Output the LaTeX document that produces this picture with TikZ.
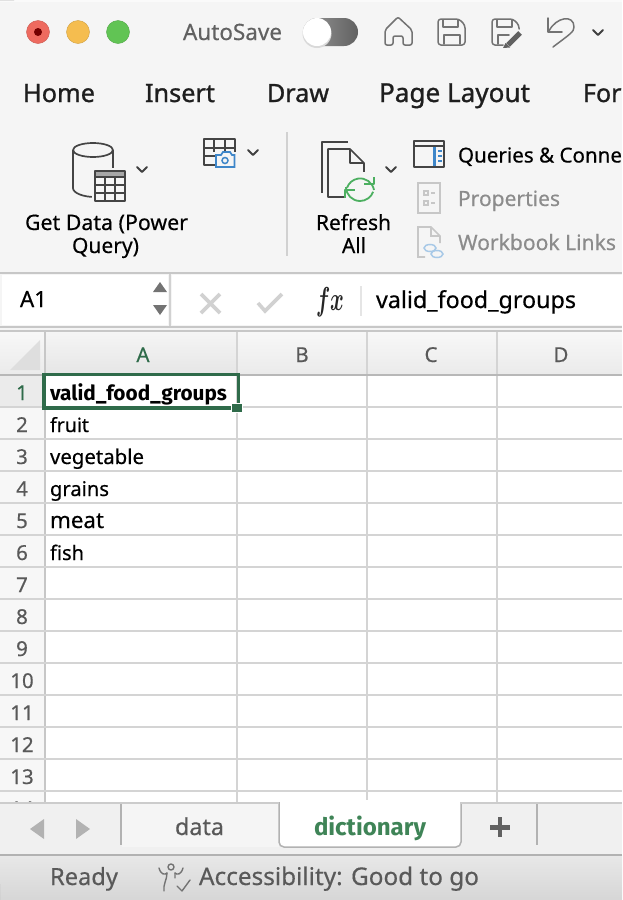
\documentclass[tikz,border=0pt]{standalone}
\usepackage{graphicx}
\usepackage{fontspec}
\setmainfont{Noto Sans}
\newfontfamily\boldface{Fira Sans}
\newfontfamily\midface{Noto Sans}[FakeBold=1.0]
\newfontfamily\lightbold{Noto Sans}[FakeBold=0.4]
\definecolor{ink}{HTML}{1E1E1E}
\definecolor{ico}{HTML}{444444}
\definecolor{grayt}{HTML}{8C8C8C}
\definecolor{grid}{HTML}{D4D4D4}
\definecolor{xlgreen}{HTML}{2F6B4A}
\definecolor{tabgreen}{HTML}{3F8457}
\definecolor{iblue}{HTML}{3E86C9}
\definecolor{tlred}{HTML}{EE6A5F}
\definecolor{tlyellow}{HTML}{F5BD4F}
\definecolor{tlgreen}{HTML}{61C454}
\definecolor{refgreen}{HTML}{4CAF60}
\tikzset{
  lbl/.style={anchor=base west,inner sep=0pt,outer sep=0pt},
  ctr/.style={anchor=base,inner sep=0pt,outer sep=0pt,font=\lightbold\fontsize{20.5}{24}\selectfont},
  gridline/.style={draw=grid,line width=2pt},
  icon/.style={draw=ico,line width=1.7pt,line join=round},
  softicon/.style={draw=black!55,line width=1.5pt,line join=round,line cap=round},
  chev/.style={draw=ink!85,line width=2pt,line join=round,line cap=round},
  refr/.style={draw=refgreen,line width=1.8pt,line join=round}
}
% name, x, baseline y, width, colour, text
\newcommand{\fittext}[6]{\node[lbl,text=#5] (#1) at (#2,#3) {\resizebox{#4pt}{!}{\fontsize{20}{24}\selectfont\strut #6}};}
\newcommand{\chevron}[2]{\draw[chev] (#1-5,#2-3) -- (#1,#2+2) -- (#1+5,#2-3);}
\begin{document}
\begin{tikzpicture}[x=1pt,y=-1pt]
\useasboundingbox (0,0) rectangle (622,900);
% window background
\fill[white] (0,0) rectangle (622,900);
\fill[black!4] (0,0) rectangle (622,272);
\fill[black!2] (0,0) rectangle (622,2);
\fill[black!78] (0,0) -- (14,0) arc[start angle=90,end angle=180,radius=14] -- cycle;
% traffic lights
\fill[tlred,draw=tlred!85!black] (38,32) circle (11.5);
\fill[red!45!black] (38,32) circle (4);
\fill[tlyellow,draw=tlyellow!85!black] (78,32) circle (11.5);
\fill[tlgreen,draw=tlgreen!85!black] (118,32) circle (11.5);
\fittext{autosave}{183}{40}{99}{black!62}{\lightbold AutoSave}
% toggle
\shade[left color=black!40,right color=black!62,rounded corners=14pt] (303,18) rectangle (358,46);
\fill[black!15] (317,33.5) circle (14.5);
\fill[white] (317,32) circle (14);
% home icon
\draw[softicon,rounded corners=2pt] (393,45) -- (393,36) -- (403,36) -- (403,45) -- (412,45) -- (412,30) -- (398,17) -- (385,30) -- (385,45) -- cycle;
% save icon
\draw[softicon,rounded corners=3pt] (438,19) -- (459,19) -- (465,25) -- (465,45) -- (438,45) -- cycle;
\draw[softicon] (443,20) -- (443,27) -- (458,27) -- (458,20);
\draw[softicon] (444,44) -- (444,35) -- (460,35) -- (460,44);
% save-as icon
\draw[softicon,rounded corners=3pt] (503,45) -- (492,45) -- (492,19) -- (513,19) -- (519,25) -- (519,29);
\draw[softicon] (497,20) -- (497,27) -- (512,27) -- (512,20);
\draw[softicon] (498,44) -- (498,35) -- (509,35);
\draw[draw=black!62,line width=5pt] (520,33) -- (508,45);
\fill[black!62] (505.5,43) -- (510,47.5) -- (503,48) -- cycle;
% undo icon
\draw[softicon] (548,18) -- (548,32) -- (562,32);
\draw[softicon] (549,31) .. controls (556,17) and (574,14) .. (574,27) .. controls (574,32) and (570,34) .. (553,47);
\chevron{598}{33}
% ribbon tabs
\fittext{thome}{23}{102}{72}{ink}{\midface Home}
\fittext{tinsert}{145}{102}{70}{ink}{\midface Insert}
\fittext{tdraw}{267}{102}{62}{ink}{\midface Draw}
\fittext{tpage}{379}{102}{151}{ink}{\midface Page Layout}
\fittext{tfor}{583}{102}{38.5}{ink}{\midface For}
% get data icon
\draw[icon] (113,170) -- (113,150) (73,150) -- (73,188) .. controls (73,193) and (83,197) .. (95,197);
\draw[icon] (93,150) ellipse (20 and 7);
\fill[black!4] (92,168) rectangle (127,203);
\fill[black!35] (95,171) rectangle (125,177);
\draw[icon] (95,171) rectangle (125,201);
\draw[icon,line width=1.2pt] (105,177) -- (105,201) (115,177) -- (115,201) (95,185) -- (125,185) (95,193) -- (125,193);
\draw[icon] (95,177) -- (125,177);
\chevron{142}{170}
\fittext{getdata}{25}{230}{163}{black}{\lightbold Get Data (Power}
\fittext{query}{72}{253}{67}{black}{\lightbold Query)}
% screenshot table icon
\draw[icon] (235,152) -- (235,139) -- (204,139) -- (204,165) -- (215,165);
\draw[icon,line width=1.2pt] (214,139) -- (214,152) (225,139) -- (225,152) (204,148) -- (235,148) (204,156) -- (215,156);
\draw[draw=iblue,line width=1.7pt,fill=black!4] (216,155) -- (221,155) -- (223,152) -- (230,152) -- (232,155) -- (234.5,155) -- (234.5,167) -- (216,167) -- cycle;
\draw[draw=iblue,line width=1.5pt] (225,160.5) circle (3);
\chevron{253}{153}
\fill[black!18] (286,132) rectangle (288,256);
% refresh icon
\draw[icon] (348,142) -- (322,142) -- (322,193);
\draw[icon] (345,197) -- (328,197) -- (328,149) -- (350,149) -- (364,163) -- (364,172);
\draw[icon,line width=1.4pt] (350,149) -- (350,163) -- (364,163);
\fill[black!4] (345,172) rectangle (376,202);
\draw[refr] (346,187) arc[start angle=180,end angle=20,radius=14];
\draw[refr] (374,190) arc[start angle=-10,end angle=-160,radius=14];
\draw[refr] (374,177) -- (374,184) -- (364,184);
\draw[refr] (345,198) -- (345,190) -- (355,190);
\chevron{391}{170}
\fittext{refresh}{316}{230}{75}{black}{\lightbold Refresh}
\fittext{all}{342}{253}{24}{black}{\lightbold All}
% queries icon
\draw[icon] (414,141) rectangle (444,167);
\draw[icon] (414,146) -- (444,146);
\fill[iblue] (433,147) rectangle (435.5,166);
\draw[iblue,line width=1.3pt] (438,151) -- (442,151) (438,156) -- (442,156) (438,161) -- (442,161);
\fittext{queries}{458}{162.5}{164}{black}{\lightbold Queries \& Conne}
% properties icon
\draw[draw=black!22,line width=1.7pt] (418,183) rectangle (440,213);
\draw[draw=black!22,line width=1.2pt] (424,191) rectangle (428,195) (424,201) rectangle (428,205) (431,193) -- (435,193) (431,203) -- (435,203);
\fittext{properties}{458}{206}{102}{grayt}{\lightbold Properties}
% workbook links icon
\draw[draw=black!22,line width=1.7pt] (425,257) -- (418,257) -- (418,227) -- (431,227) -- (440,236) -- (440,243);
\draw[draw=black!22,line width=1.4pt] (431,227) -- (431,236) -- (440,236);
\draw[draw=iblue!45,line width=1.5pt] (430,248) ellipse (6 and 3.5) (437,254) ellipse (6 and 3.5);
\fittext{workbook}{458}{250}{158}{grayt}{\lightbold Workbook Links}
% formula bar
\fill[black!4] (0,272) rectangle (622,331);
\fill[white] (2,275) rectangle (168,325);
\fill[white] (172,275) rectangle (622,325);
\fill[black!22] (0,272) rectangle (622,274);
\fill[black!22] (0,326) rectangle (622,328);
\fill[black!22] (0,330) rectangle (622,331.5);
\fill[black!18] (169,274) rectangle (171,326);
\fittext{namebox}{20}{307}{27}{black}{\lightbold A1}
\fill[black!55] (160,282) -- (167,292) -- (153,292) -- cycle;
\fill[black!55] (160,315) -- (167,305) -- (153,305) -- cycle;
\draw[draw=black!18,line width=3.6pt] (201,294) -- (220,313) (220,294) -- (201,313);
\draw[draw=black!18,line width=3.6pt] (258,303) -- (265,311) -- (282,294);
\node[lbl,text=black!85] (fxsign) at (316,310.5) {\resizebox{28pt}{23pt}{\boldmath$fx$}};
\fill[black!10] (360,286) rectangle (362,316);
\fittext{formula}{376}{308}{200}{black}{\lightbold valid\_food\_groups}
% column and row headers
\shade[top color=black!3,bottom color=black!8] (0,332) rectangle (622,375);
\shade[top color=black!4,bottom color=black!10] (45,332) rectangle (237,375);
\fill[black!3] (0,375) rectangle (45,803);
\fill[black!8] (0,376) rectangle (45,407);
\fill[black!13] (10,370) -- (40,370) -- (40,340) -- cycle;
\foreach \vx in {237,367,497} \draw[gridline] (\vx,332) -- (\vx,803);
\draw[draw=black!22,line width=2pt] (45,332) -- (45,803);
\foreach \hy in {407,439,...,791} \draw[gridline] (0,\hy) -- (622,\hy);
\draw[draw=black!28,line width=2pt] (0,375) -- (622,375);
\node[ctr,text=xlgreen] (colA) at (143,362) {A};
\node[ctr,text=black!65] (colB) at (302,362) {B};
\node[ctr,text=black!65] (colC) at (431,362) {C};
\node[ctr,text=black!65] (colD) at (561,362) {D};
\node[ctr,text=xlgreen] (row1) at (22,400) {1};
\foreach \r/\b in {2/432,3/464,4/496,5/528,6/560,7/592,8/624,9/656,10/688,11/720,12/752,13/784,14/816}
  \node[ctr,text=black!65] (row\r) at (22,\b) {\r};
% cell text
\fittext{c1}{50}{400}{177}{black}{\boldface\bfseries valid\_food\_groups}
\fittext{c2}{50}{432}{39}{black}{\lightbold fruit}
\fittext{c3}{50}{464}{94}{black}{\lightbold vegetable}
\fittext{c4}{50}{496}{59}{black}{\lightbold grains}
\fittext{c5}{50}{528}{54}{black}{\lightbold meat}
\fittext{c6}{50}{560}{34}{black}{\lightbold fish}
% selected cell
\draw[draw=xlgreen,line width=3.4pt] (44,374.5) rectangle (238.5,408);
\fill[xlgreen,draw=white,line width=1pt] (231,403) rectangle (242,412.5);
% tab bar
\fill[black!6] (0,803) rectangle (622,855);
\draw[draw=black!20,line width=2pt] (0,803) -- (622,803);
\fill[black!30] (30,829) -- (44,819) -- (44,839) -- cycle;
\fill[black!30] (90,829) -- (76,819) -- (76,839) -- cycle;
\fill[black!30] (120,804) rectangle (122,845);
\fill[black!4] (122,804) rectangle (279,847);
\fill[black!30] (536,804) rectangle (538,845);
\draw[draw=black!30,line width=1.5pt,fill=white,rounded corners=5pt] (279,802) -- (279,847) -- (461,847) -- (461,802);
\fill[white] (280,800) rectangle (460,804);
\draw[draw=black!20,line width=2pt] (121,803) -- (279,803) (461,803) -- (622,803);
\fittext{tabdata}{175}{835}{49}{black!65}{\lightbold data}
\fittext{tabdict}{314}{835}{112}{tabgreen}{\boldface\bfseries dictionary}
\fill[black!62] (490,825) rectangle (510,829.5);
\fill[black!62] (497.7,817) rectangle (502.3,837);
% status bar
\shade[top color=black!9,bottom color=black!16] (0,855) rectangle (622,900);
\fill[black!30] (0,854) rectangle (622,856);
\fill[black!32] (0,884) -- (0,900) -- (16,900) arc[start angle=270,end angle=180,radius=16] -- cycle;
\fittext{ready}{50}{885}{68}{black!65}{\lightbold Ready}
\draw[softicon,line width=1.4pt] (171,867) circle (3);
\draw[softicon,line width=1.4pt] (159,868) .. controls (161,875) and (165,875) .. (167,873) (183,868) .. controls (181,875) and (177,875) .. (175,873);
\draw[softicon,line width=1.4pt] (167,873) .. controls (167,880) and (163,884) .. (164,891) (175,873) -- (175,878);
\draw[softicon,line width=1.4pt] (177,886) -- (182,891) -- (190,880);
\fittext{access}{199}{885}{280}{black!65}{\lightbold Accessibility: Good to go}
\end{tikzpicture}
\end{document}
